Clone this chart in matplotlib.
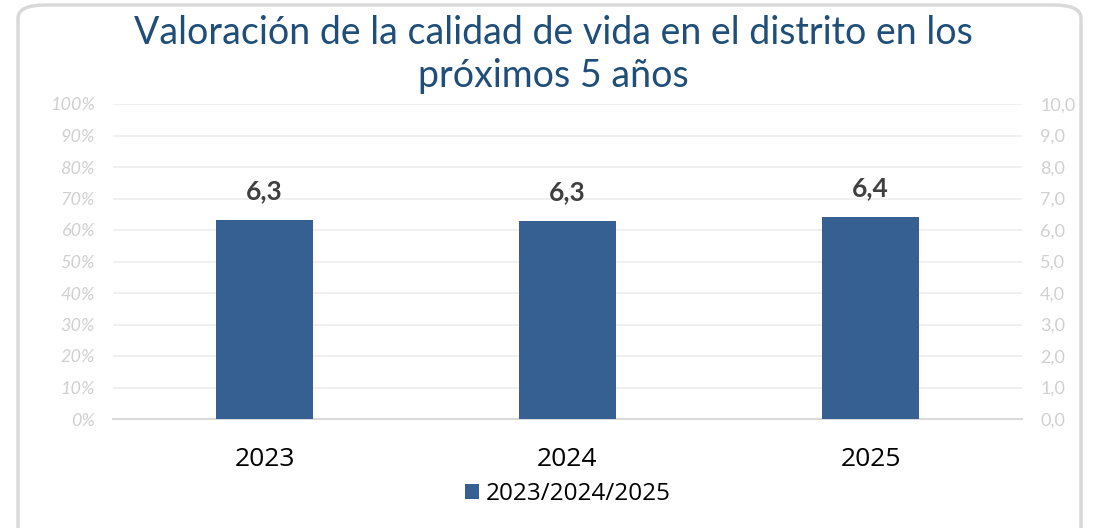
import matplotlib.pyplot as plt
from matplotlib.patches import FancyBboxPatch, Patch
import numpy as np

# data
years = ["2023", "2024", "2025"]
scores = [6.33, 6.30, 6.42]
score_labels = ["6,3", "6,3", "6,4"]
pct_ticks = [0, 10, 20, 30, 40, 50, 60, 70, 80, 90, 100]
score_ticks = [0, 1, 2, 3, 4, 5, 6, 7, 8, 9, 10]
series_name = "2023/2024/2025"

bar_color = "#366092"
title_color = "#1F4E79"
tick_color = "#D0D0D0"

W, H = 1093, 528
fig = plt.figure(figsize=(W / 100, H / 100), dpi=100)

# rounded frame around the chart
frame = FancyBboxPatch((18 / W, -20 / H), 1063 / W, 543 / H,
                       boxstyle="round,pad=0,rounding_size=0.025",
                       transform=fig.transFigure, facecolor="none",
                       edgecolor="#D9D9D9", linewidth=2.5, zorder=10)
fig.patches.append(frame)

ax = fig.add_axes([113 / W, (H - 419) / H, 909 / W, 315 / H])
ax.set_facecolor("none")
ax.set_ylim(0, 100)
ax.set_yticks(pct_ticks)
ax.set_yticklabels([f"{t}%" for t in pct_ticks], fontfamily="Lato",
                   fontstyle="italic", fontsize=13, color=tick_color)
ax.grid(axis="y", color="#EFEFEF", linewidth=1.3)
ax.set_axisbelow(True)
for s in ["top", "right", "left"]:
    ax.spines[s].set_visible(False)
ax.spines["bottom"].set_color("#D9D9D9")
ax.spines["bottom"].set_linewidth(1.5)
ax.tick_params(axis="y", length=0, pad=13)

ax2 = ax.twinx()
ax2.set_ylim(0, 10)
ax2.set_yticks(score_ticks)
ax2.set_yticklabels([f"{t},0" for t in score_ticks], fontfamily="Lato",
                    fontsize=13, color=tick_color)
ax2.tick_params(axis="y", length=0, pad=13)
for s in ax2.spines.values():
    s.set_visible(False)

x = np.arange(len(years))
bars = ax2.bar(x, scores, width=0.317, color=bar_color, zorder=3)
for b, lab in zip(bars, score_labels):
    ax2.annotate(lab, (b.get_x() + b.get_width() / 2, b.get_height()),
                 xytext=(0, 12), textcoords="offset points", ha="center",
                 va="bottom", fontfamily="Lato", fontweight="bold",
                 fontsize=19, color="#404040")

ax.set_xlim(-0.5, len(years) - 0.5)
ax.set_xticks(x)
ax.set_xticklabels(years, fontfamily="Open Sans", fontsize=19, color="black")
ax.tick_params(axis="x", length=0, pad=20)

fig.text(553 / W, 1 - 33 / H, "Valoración de la calidad de vida en el distrito en los",
         ha="center", va="center", fontfamily="Lato", fontsize=27, color=title_color)
fig.text(553 / W, 1 - 76 / H, "próximos 5 años",
         ha="center", va="center", fontfamily="Lato", fontsize=27, color=title_color)

leg = fig.legend(handles=[Patch(facecolor=bar_color, label=series_name)],
                 loc="center", bbox_to_anchor=(568 / W, 1 - 494 / H),
                 frameon=False, handlelength=0.55, handleheight=0.55,
                 handletextpad=0.3,
                 prop={"family": "Open Sans", "size": 17.5})

fig.savefig("out.png", dpi=100)
